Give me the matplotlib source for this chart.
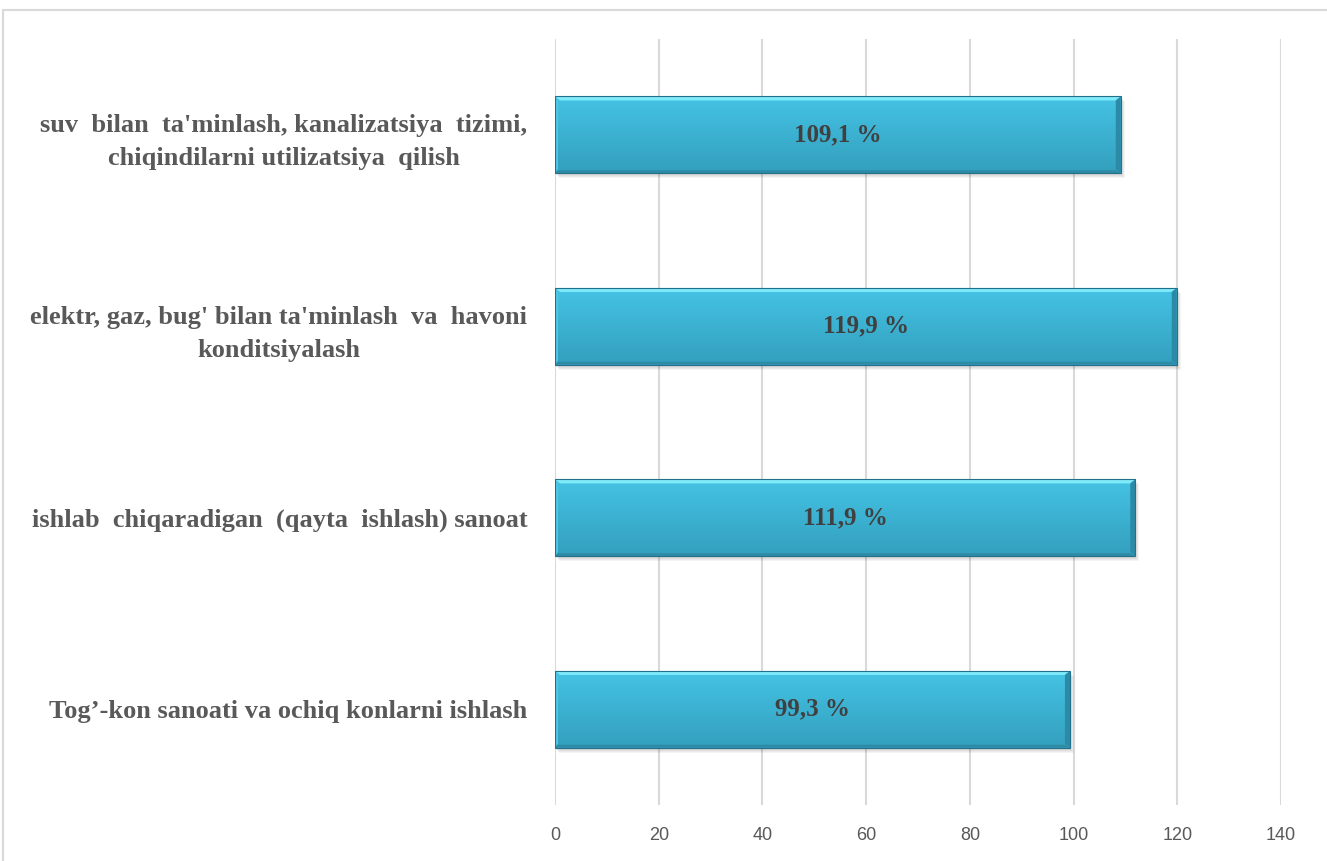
import matplotlib
matplotlib.use('Agg')
import matplotlib.pyplot as plt
import numpy as np
from matplotlib.patches import Polygon, Rectangle
from matplotlib.colors import to_rgb

# Data (top to bottom as shown)
categories = [
    "suv  bilan  ta'minlash, kanalizatsiya  tizimi,\nchiqindilarni utilizatsiya  qilish",
    "elektr, gaz, bug' bilan ta'minlash  va  havoni\nkonditsiyalash",
    "ishlab  chiqaradigan  (qayta  ishlash) sanoat",
    "Tog\u2019-kon sanoati va ochiq konlarni ishlash",
]
values = [109.1, 119.9, 111.9, 99.3]
value_labels = ["109,1 %", "119,9 %", "111,9 %", "99,3 %"]
xticks = [0, 20, 40, 60, 80, 100, 120, 140]

W, H = 1327, 861
fig = plt.figure(figsize=(W / 100, H / 100), dpi=100)
ax = fig.add_axes([555 / W, 1 - 805 / H, (1281 - 555) / W, (805 - 39) / H])

# outer chart frame
fig.patches.append(Rectangle((3.5 / W, -0.1), 1.2, 1.1 - 9.5 / H, transform=fig.transFigure,
                             fill=False, ec='#D9D9D9', lw=1.5))

ypos = np.arange(len(values))
bar_h = 0.40
bars = ax.barh(ypos, values, height=bar_h, color='#3BB4D6', zorder=3)

ax.set_xlim(0, 140)
ax.set_ylim(len(values) - 0.5, -0.5)

# pixel -> data scale
px_x = 140 / (1281 - 555)
px_y = len(values) / (805 - 39)

top_c = np.array(to_rgb('#45C3E4'))
bot_c = np.array(to_rgb('#339FBE'))
grad = np.linspace(0, 1, 64)[:, None, None]
grad_img = top_c * (1 - grad) + bot_c * grad

for b, lab in zip(bars, value_labels):
    x0, y0 = b.get_x(), b.get_y()
    w, h = b.get_width(), b.get_height()
    x1, y1 = x0 + w, y0 + h
    # soft shadow
    for k in range(4):
        ax.add_patch(Rectangle((x0 + (1 + k) * px_x, y0 + (2 + k) * px_y), w, h,
                               fc='black', ec='none', alpha=0.045, zorder=2))
    # gradient face
    ax.imshow(grad_img, extent=[x0, x1, y1, y0], origin='upper', aspect='auto',
              zorder=3.1, interpolation='bilinear')
    bx, by = 5 * px_x, 4 * px_y
    # bevels
    ax.add_patch(Polygon([(x0, y0), (x1, y0), (x1 - bx, y0 + by), (x0 + bx, y0 + by)],
                         closed=True, fc='#7EEAFA', ec='none', zorder=3.2))
    ax.add_patch(Polygon([(x0, y0), (x0 + bx * 0.6, y0 + by), (x0 + bx * 0.6, y1 - by), (x0, y1)],
                         closed=True, fc='#4CC8E6', ec='none', zorder=3.2))
    ax.add_patch(Polygon([(x1, y0), (x1 - bx, y0 + by), (x1 - bx, y1 - by), (x1, y1)],
                         closed=True, fc='#2B8AA6', ec='none', zorder=3.2))
    ax.add_patch(Polygon([(x0, y1), (x0 + bx * 0.6, y1 - by * 0.7), (x1 - bx, y1 - by * 0.7), (x1, y1)],
                         closed=True, fc='#2E8BA6', ec='none', zorder=3.2))
    ax.add_patch(Rectangle((x0, y0), w, h, fill=False, ec='#23708A', lw=0.8, zorder=3.3))
    ax.text(x0 + w / 2, y0 + h / 2, lab, ha='center', va='center', zorder=4,
            family='Liberation Serif', weight='bold', fontsize=18, color='#404040')

ax.set_xticks(xticks)
ax.set_xticklabels([str(t) for t in xticks], family=['Liberation Sans Narrow', 'Liberation Sans'],
                   fontsize=13, color='#595959')
ax.set_yticks(ypos)
ax.set_yticklabels(categories, family='Liberation Serif', weight='bold', fontsize=19,
                   color='#595959', multialignment='center', linespacing=1.55)
ax.tick_params(axis='x', length=0, pad=16)
ax.tick_params(axis='y', length=0, pad=20)
ax.grid(axis='x', color='#D9D9D9', lw=1.5, zorder=0)
ax.set_axisbelow(True)
for s in ax.spines.values():
    s.set_visible(False)

fig.savefig('out.png', dpi=100)
